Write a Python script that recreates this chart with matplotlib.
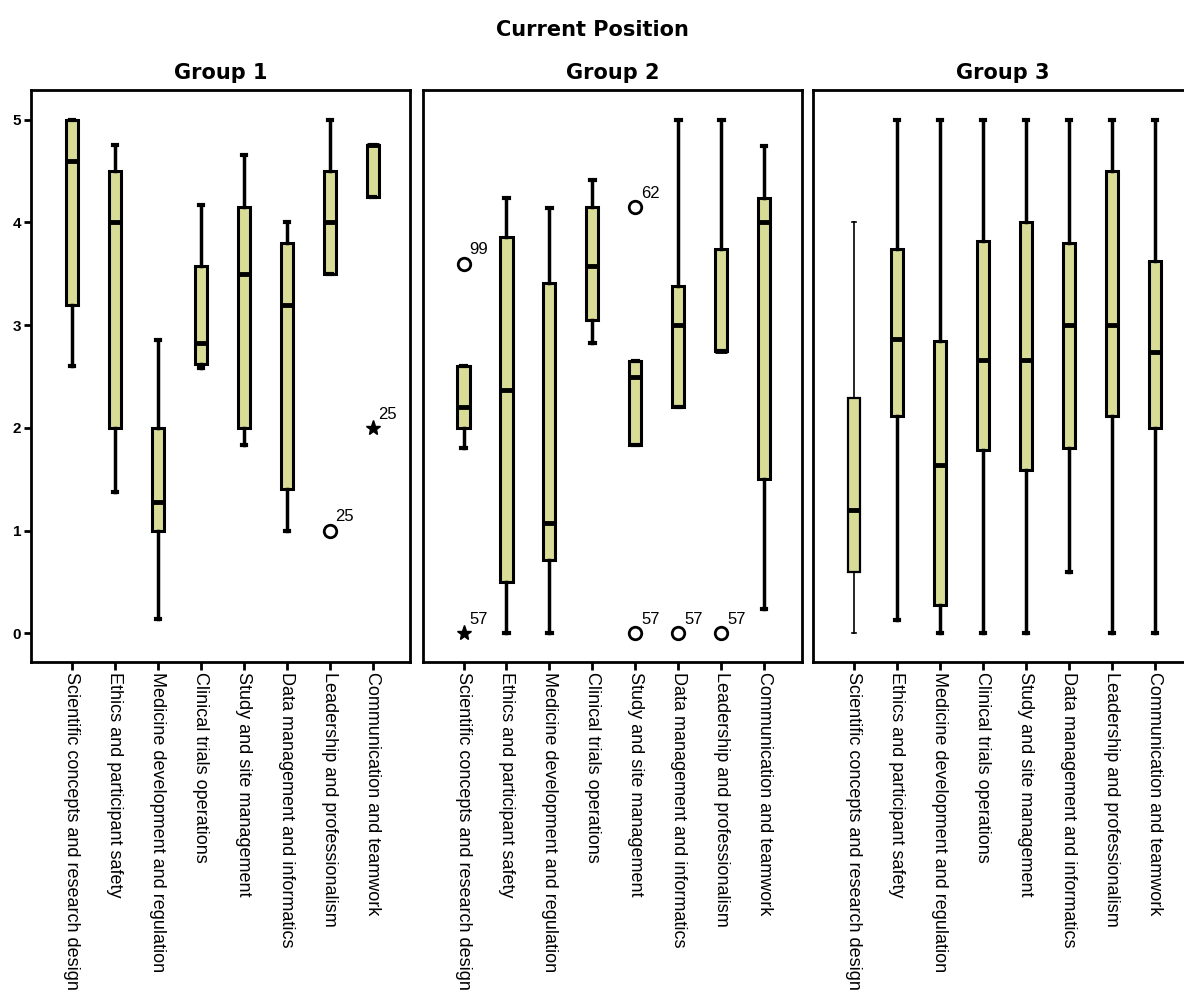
import matplotlib.pyplot as plt

# competency domains (x categories, same for each group)
domains = ['Scientific concepts and research design', 'Ethics and participant safety',
           'Medicine development and regulation', 'Clinical trials operations',
           'Study and site management', 'Data management and informatics',
           'Leadership and professionalism', 'Communication and teamwork']
groups = ['Group 1', 'Group 2', 'Group 3']

# box stats per group: whisker low, Q1, median, Q3, whisker high
g1_whislo = [2.6, 1.375, 0.14, 2.58, 1.83, 1.0, 3.5, 4.25]
g1_q1 = [3.2, 2.0, 1.0, 2.62, 2.0, 1.4, 3.5, 4.25]
g1_med = [4.6, 4.0, 1.28, 2.83, 3.5, 3.2, 4.0, 4.75]
g1_q3 = [5.0, 4.5, 2.0, 3.58, 4.15, 3.8, 4.5, 4.75]
g1_whishi = [5.0, 4.75, 2.86, 4.17, 4.66, 4.0, 5.0, 4.75]

g2_whislo = [1.8, 0.0, 0.0, 2.83, 1.83, 2.2, 2.75, 0.24]
g2_q1 = [2.0, 0.5, 0.71, 3.05, 1.83, 2.2, 2.75, 1.5]
g2_med = [2.2, 2.37, 1.07, 3.58, 2.5, 3.0, 2.75, 4.0]
g2_q3 = [2.6, 3.86, 3.41, 4.15, 2.65, 3.38, 3.74, 4.24]
g2_whishi = [2.6, 4.24, 4.14, 4.41, 2.65, 5.0, 5.0, 4.74]

g3_whislo = [0.0, 0.13, 0.0, 0.0, 0.0, 0.6, 0.0, 0.0]
g3_q1 = [0.6, 2.12, 0.28, 1.78, 1.59, 1.8, 2.12, 2.0]
g3_med = [1.2, 2.87, 1.64, 2.66, 2.66, 3.0, 3.0, 2.74]
g3_q3 = [2.29, 3.74, 2.85, 3.82, 4.0, 3.8, 4.5, 3.62]
g3_whishi = [4.0, 5.0, 5.0, 5.0, 5.0, 5.0, 5.0, 5.0]

# outliers: (group index, box position, value, case label, marker)
out_group = [0, 0, 1, 1, 1, 1, 1, 1]
out_pos = [7, 8, 1, 1, 5, 5, 6, 7]
out_val = [1.0, 2.0, 3.6, 0.0, 4.15, 0.0, 0.0, 0.0]
out_lab = ['25', '25', '99', '57', '62', '57', '57', '57']
out_mark = ['o', '*', 'o', '*', 'o', 'o', 'o', 'o']

stats_all = [(g1_whislo, g1_q1, g1_med, g1_q3, g1_whishi),
             (g2_whislo, g2_q1, g2_med, g2_q3, g2_whishi),
             (g3_whislo, g3_q1, g3_med, g3_q3, g3_whishi)]

plt.rcParams['font.family'] = ['Liberation Sans', 'DejaVu Sans']
fig = plt.figure(figsize=(11.84, 9.93), dpi=100)
fig.text(0.5, 0.970, 'Current Position', ha='center', va='center',
         fontsize=15, fontweight='bold', family='DejaVu Sans')

lefts = [0.0262, 0.357, 0.6867]
box_col = '#d8dc96'
for g in range(3):
    ax = fig.add_axes([lefts[g], 0.3333, 0.3205, 0.5761])
    wl, q1, md, q3, wh = stats_all[g]
    bstats = []
    for i in range(8):
        bstats.append({'whislo': wl[i], 'q1': q1[i], 'med': md[i], 'q3': q3[i],
                       'whishi': wh[i], 'fliers': []})
    res = ax.bxp(bstats, positions=range(1, 9), widths=0.28, patch_artist=True,
                 showfliers=False, capwidths=0.1,
                 boxprops=dict(facecolor=box_col, edgecolor='black', linewidth=2.2),
                 medianprops=dict(color='black', linewidth=3.5),
                 whiskerprops=dict(color='black', linewidth=2.5),
                 capprops=dict(color='black', linewidth=3))
    if g == 2:
        # first box of group 3 drawn with thin lines
        for ln in res['whiskers'][0:2] + res['caps'][0:2]:
            ln.set_linewidth(1.2)
        res['boxes'][0].set_linewidth(1.6)
    for k in range(len(out_val)):
        if out_group[k] != g:
            continue
        if out_mark[k] == 'o':
            ax.plot(out_pos[k], out_val[k], 'o', mfc='white', mec='black',
                    mew=2, ms=9)
        else:
            ax.plot(out_pos[k], out_val[k], '*', color='black', ms=11)
        ax.text(out_pos[k] + 0.13, out_val[k] + 0.06, out_lab[k], fontsize=12,
                ha='left', va='bottom')
    ax.set_xlim(0.05, 8.88)
    ax.set_ylim(-0.28, 5.29)
    ax.set_xticks(range(1, 9))
    ax.set_xticklabels(domains, rotation=-90, fontsize=13, va='top', ha='center')
    ax.tick_params(axis='x', length=6, width=2, pad=1)
    if g == 0:
        ax.set_yticks([0, 1, 2, 3, 4, 5])
        ax.tick_params(axis='y', length=5, width=2, labelsize=11, pad=2)
        for t in ax.get_yticklabels():
            t.set_fontweight('bold')
    else:
        ax.set_yticks([])
    for s in ax.spines.values():
        s.set_linewidth(2)
    ax.set_title(groups[g], fontsize=15, fontweight='bold', pad=8,
                 family='DejaVu Sans')

plt.savefig('out.png', dpi=100)
